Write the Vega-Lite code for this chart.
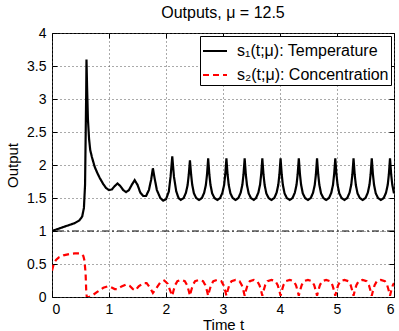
{
  "$schema": "https://vega.github.io/schema/vega-lite/v6.json",
  "width": 342,
  "height": 264,
  "autosize": {"type": "none"},
  "padding": {"left": 52, "top": 33, "right": 5, "bottom": 34},
  "background": "white",
  "config": {
    "view": {"stroke": "black", "strokeWidth": 1},
    "font": "Liberation Sans",
    "axis": {
      "labelFont": "Liberation Sans",
      "titleFont": "Liberation Sans",
      "labelFontSize": 14,
      "titleFontSize": 15,
      "titleFontWeight": "normal",
      "labelColor": "black",
      "titleColor": "black",
      "domain": false,
      "tickColor": "black",
      "tickSize": -5,
      "labelPadding": 11,
      "grid": false
    }
  },
  "title": {
    "text": "Outputs, μ = 12.5",
    "fontSize": 16,
    "fontWeight": "normal",
    "font": "Liberation Sans",
    "color": "black",
    "baseline": "alphabetic",
    "offset": -8
  },
  "datasets": {
    "sol": [
      {"t": 0, "v": 1.0, "s": "s₁(t;μ): Temperature"},
      {"t": 0.1, "v": 1.03, "s": "s₁(t;μ): Temperature"},
      {"t": 0.2, "v": 1.06, "s": "s₁(t;μ): Temperature"},
      {"t": 0.3, "v": 1.09, "s": "s₁(t;μ): Temperature"},
      {"t": 0.4, "v": 1.12, "s": "s₁(t;μ): Temperature"},
      {"t": 0.48, "v": 1.16, "s": "s₁(t;μ): Temperature"},
      {"t": 0.53, "v": 1.22, "s": "s₁(t;μ): Temperature"},
      {"t": 0.56, "v": 1.35, "s": "s₁(t;μ): Temperature"},
      {"t": 0.58, "v": 1.7, "s": "s₁(t;μ): Temperature"},
      {"t": 0.59, "v": 2.4, "s": "s₁(t;μ): Temperature"},
      {"t": 0.6, "v": 3.1, "s": "s₁(t;μ): Temperature"},
      {"t": 0.605, "v": 3.6, "s": "s₁(t;μ): Temperature"},
      {"t": 0.615, "v": 3.2, "s": "s₁(t;μ): Temperature"},
      {"t": 0.63, "v": 2.7, "s": "s₁(t;μ): Temperature"},
      {"t": 0.65, "v": 2.4, "s": "s₁(t;μ): Temperature"},
      {"t": 0.67, "v": 2.23, "s": "s₁(t;μ): Temperature"},
      {"t": 0.7, "v": 2.12, "s": "s₁(t;μ): Temperature"},
      {"t": 0.75, "v": 1.97, "s": "s₁(t;μ): Temperature"},
      {"t": 0.8, "v": 1.87, "s": "s₁(t;μ): Temperature"},
      {"t": 0.84, "v": 1.8, "s": "s₁(t;μ): Temperature"},
      {"t": 0.9, "v": 1.71, "s": "s₁(t;μ): Temperature"},
      {"t": 0.95, "v": 1.65, "s": "s₁(t;μ): Temperature"},
      {"t": 1.0, "v": 1.62, "s": "s₁(t;μ): Temperature"},
      {"t": 1.05, "v": 1.63, "s": "s₁(t;μ): Temperature"},
      {"t": 1.1, "v": 1.68, "s": "s₁(t;μ): Temperature"},
      {"t": 1.15, "v": 1.72, "s": "s₁(t;μ): Temperature"},
      {"t": 1.2, "v": 1.68, "s": "s₁(t;μ): Temperature"},
      {"t": 1.25, "v": 1.62, "s": "s₁(t;μ): Temperature"},
      {"t": 1.3, "v": 1.59, "s": "s₁(t;μ): Temperature"},
      {"t": 1.35, "v": 1.62, "s": "s₁(t;μ): Temperature"},
      {"t": 1.4, "v": 1.7, "s": "s₁(t;μ): Temperature"},
      {"t": 1.45, "v": 1.77, "s": "s₁(t;μ): Temperature"},
      {"t": 1.5, "v": 1.7, "s": "s₁(t;μ): Temperature"},
      {"t": 1.55, "v": 1.58, "s": "s₁(t;μ): Temperature"},
      {"t": 1.6, "v": 1.53, "s": "s₁(t;μ): Temperature"},
      {"t": 1.65, "v": 1.53, "s": "s₁(t;μ): Temperature"},
      {"t": 1.7, "v": 1.62, "s": "s₁(t;μ): Temperature"},
      {"t": 1.74, "v": 1.78, "s": "s₁(t;μ): Temperature"},
      {"t": 1.77, "v": 1.95, "s": "s₁(t;μ): Temperature"},
      {"t": 1.8, "v": 1.8, "s": "s₁(t;μ): Temperature"},
      {"t": 1.84, "v": 1.62, "s": "s₁(t;μ): Temperature"},
      {"t": 1.9, "v": 1.5, "s": "s₁(t;μ): Temperature"},
      {"t": 1.95, "v": 1.46, "s": "s₁(t;μ): Temperature"},
      {"t": 2.0, "v": 1.48, "s": "s₁(t;μ): Temperature"},
      {"t": 2.05, "v": 1.6, "s": "s₁(t;μ): Temperature"},
      {"t": 2.08, "v": 1.82, "s": "s₁(t;μ): Temperature"},
      {"t": 2.11, "v": 2.13, "s": "s₁(t;μ): Temperature"},
      {"t": 2.14, "v": 1.82, "s": "s₁(t;μ): Temperature"},
      {"t": 2.18, "v": 1.6, "s": "s₁(t;μ): Temperature"},
      {"t": 2.22, "v": 1.5, "s": "s₁(t;μ): Temperature"},
      {"t": 2.26, "v": 1.47, "s": "s₁(t;μ): Temperature"},
      {"t": 2.31, "v": 1.5, "s": "s₁(t;μ): Temperature"},
      {"t": 2.35, "v": 1.58, "s": "s₁(t;μ): Temperature"},
      {"t": 2.38, "v": 1.7, "s": "s₁(t;μ): Temperature"},
      {"t": 2.4, "v": 1.86, "s": "s₁(t;μ): Temperature"},
      {"t": 2.42, "v": 2.07, "s": "s₁(t;μ): Temperature"},
      {"t": 2.44, "v": 1.86, "s": "s₁(t;μ): Temperature"},
      {"t": 2.46, "v": 1.7, "s": "s₁(t;μ): Temperature"},
      {"t": 2.49, "v": 1.57, "s": "s₁(t;μ): Temperature"},
      {"t": 2.53, "v": 1.5, "s": "s₁(t;μ): Temperature"},
      {"t": 2.58, "v": 1.47, "s": "s₁(t;μ): Temperature"},
      {"t": 2.63, "v": 1.5, "s": "s₁(t;μ): Temperature"},
      {"t": 2.67, "v": 1.58, "s": "s₁(t;μ): Temperature"},
      {"t": 2.7, "v": 1.7, "s": "s₁(t;μ): Temperature"},
      {"t": 2.72, "v": 1.86, "s": "s₁(t;μ): Temperature"},
      {"t": 2.74, "v": 2.1, "s": "s₁(t;μ): Temperature"},
      {"t": 2.76, "v": 1.86, "s": "s₁(t;μ): Temperature"},
      {"t": 2.78, "v": 1.7, "s": "s₁(t;μ): Temperature"},
      {"t": 2.81, "v": 1.57, "s": "s₁(t;μ): Temperature"},
      {"t": 2.85, "v": 1.5, "s": "s₁(t;μ): Temperature"},
      {"t": 2.9, "v": 1.47, "s": "s₁(t;μ): Temperature"},
      {"t": 2.95, "v": 1.5, "s": "s₁(t;μ): Temperature"},
      {"t": 2.99, "v": 1.58, "s": "s₁(t;μ): Temperature"},
      {"t": 3.02, "v": 1.7, "s": "s₁(t;μ): Temperature"},
      {"t": 3.04, "v": 1.86, "s": "s₁(t;μ): Temperature"},
      {"t": 3.06, "v": 2.1, "s": "s₁(t;μ): Temperature"},
      {"t": 3.08, "v": 1.86, "s": "s₁(t;μ): Temperature"},
      {"t": 3.1, "v": 1.7, "s": "s₁(t;μ): Temperature"},
      {"t": 3.13, "v": 1.57, "s": "s₁(t;μ): Temperature"},
      {"t": 3.17, "v": 1.5, "s": "s₁(t;μ): Temperature"},
      {"t": 3.22, "v": 1.47, "s": "s₁(t;μ): Temperature"},
      {"t": 3.27, "v": 1.5, "s": "s₁(t;μ): Temperature"},
      {"t": 3.31, "v": 1.58, "s": "s₁(t;μ): Temperature"},
      {"t": 3.34, "v": 1.7, "s": "s₁(t;μ): Temperature"},
      {"t": 3.36, "v": 1.86, "s": "s₁(t;μ): Temperature"},
      {"t": 3.38, "v": 2.1, "s": "s₁(t;μ): Temperature"},
      {"t": 3.4, "v": 1.86, "s": "s₁(t;μ): Temperature"},
      {"t": 3.42, "v": 1.7, "s": "s₁(t;μ): Temperature"},
      {"t": 3.45, "v": 1.57, "s": "s₁(t;μ): Temperature"},
      {"t": 3.49, "v": 1.5, "s": "s₁(t;μ): Temperature"},
      {"t": 3.54, "v": 1.47, "s": "s₁(t;μ): Temperature"},
      {"t": 3.58, "v": 1.5, "s": "s₁(t;μ): Temperature"},
      {"t": 3.62, "v": 1.58, "s": "s₁(t;μ): Temperature"},
      {"t": 3.65, "v": 1.7, "s": "s₁(t;μ): Temperature"},
      {"t": 3.67, "v": 1.86, "s": "s₁(t;μ): Temperature"},
      {"t": 3.69, "v": 2.1, "s": "s₁(t;μ): Temperature"},
      {"t": 3.71, "v": 1.86, "s": "s₁(t;μ): Temperature"},
      {"t": 3.73, "v": 1.7, "s": "s₁(t;μ): Temperature"},
      {"t": 3.76, "v": 1.57, "s": "s₁(t;μ): Temperature"},
      {"t": 3.8, "v": 1.5, "s": "s₁(t;μ): Temperature"},
      {"t": 3.85, "v": 1.47, "s": "s₁(t;μ): Temperature"},
      {"t": 3.9, "v": 1.5, "s": "s₁(t;μ): Temperature"},
      {"t": 3.94, "v": 1.58, "s": "s₁(t;μ): Temperature"},
      {"t": 3.97, "v": 1.7, "s": "s₁(t;μ): Temperature"},
      {"t": 3.99, "v": 1.86, "s": "s₁(t;μ): Temperature"},
      {"t": 4.01, "v": 2.1, "s": "s₁(t;μ): Temperature"},
      {"t": 4.03, "v": 1.86, "s": "s₁(t;μ): Temperature"},
      {"t": 4.05, "v": 1.7, "s": "s₁(t;μ): Temperature"},
      {"t": 4.08, "v": 1.57, "s": "s₁(t;μ): Temperature"},
      {"t": 4.12, "v": 1.5, "s": "s₁(t;μ): Temperature"},
      {"t": 4.17, "v": 1.47, "s": "s₁(t;μ): Temperature"},
      {"t": 4.22, "v": 1.5, "s": "s₁(t;μ): Temperature"},
      {"t": 4.26, "v": 1.58, "s": "s₁(t;μ): Temperature"},
      {"t": 4.29, "v": 1.7, "s": "s₁(t;μ): Temperature"},
      {"t": 4.31, "v": 1.86, "s": "s₁(t;μ): Temperature"},
      {"t": 4.33, "v": 2.1, "s": "s₁(t;μ): Temperature"},
      {"t": 4.35, "v": 1.86, "s": "s₁(t;μ): Temperature"},
      {"t": 4.37, "v": 1.7, "s": "s₁(t;μ): Temperature"},
      {"t": 4.4, "v": 1.57, "s": "s₁(t;μ): Temperature"},
      {"t": 4.44, "v": 1.5, "s": "s₁(t;μ): Temperature"},
      {"t": 4.49, "v": 1.47, "s": "s₁(t;μ): Temperature"},
      {"t": 4.54, "v": 1.5, "s": "s₁(t;μ): Temperature"},
      {"t": 4.58, "v": 1.58, "s": "s₁(t;μ): Temperature"},
      {"t": 4.61, "v": 1.7, "s": "s₁(t;μ): Temperature"},
      {"t": 4.63, "v": 1.86, "s": "s₁(t;μ): Temperature"},
      {"t": 4.65, "v": 2.1, "s": "s₁(t;μ): Temperature"},
      {"t": 4.67, "v": 1.86, "s": "s₁(t;μ): Temperature"},
      {"t": 4.69, "v": 1.7, "s": "s₁(t;μ): Temperature"},
      {"t": 4.72, "v": 1.57, "s": "s₁(t;μ): Temperature"},
      {"t": 4.76, "v": 1.5, "s": "s₁(t;μ): Temperature"},
      {"t": 4.81, "v": 1.47, "s": "s₁(t;μ): Temperature"},
      {"t": 4.86, "v": 1.5, "s": "s₁(t;μ): Temperature"},
      {"t": 4.9, "v": 1.58, "s": "s₁(t;μ): Temperature"},
      {"t": 4.93, "v": 1.7, "s": "s₁(t;μ): Temperature"},
      {"t": 4.95, "v": 1.86, "s": "s₁(t;μ): Temperature"},
      {"t": 4.97, "v": 2.1, "s": "s₁(t;μ): Temperature"},
      {"t": 4.99, "v": 1.86, "s": "s₁(t;μ): Temperature"},
      {"t": 5.01, "v": 1.7, "s": "s₁(t;μ): Temperature"},
      {"t": 5.04, "v": 1.57, "s": "s₁(t;μ): Temperature"},
      {"t": 5.08, "v": 1.5, "s": "s₁(t;μ): Temperature"},
      {"t": 5.13, "v": 1.47, "s": "s₁(t;μ): Temperature"},
      {"t": 5.18, "v": 1.5, "s": "s₁(t;μ): Temperature"},
      {"t": 5.22, "v": 1.58, "s": "s₁(t;μ): Temperature"},
      {"t": 5.25, "v": 1.7, "s": "s₁(t;μ): Temperature"},
      {"t": 5.27, "v": 1.86, "s": "s₁(t;μ): Temperature"},
      {"t": 5.29, "v": 2.1, "s": "s₁(t;μ): Temperature"},
      {"t": 5.31, "v": 1.86, "s": "s₁(t;μ): Temperature"},
      {"t": 5.33, "v": 1.7, "s": "s₁(t;μ): Temperature"},
      {"t": 5.36, "v": 1.57, "s": "s₁(t;μ): Temperature"},
      {"t": 5.4, "v": 1.5, "s": "s₁(t;μ): Temperature"},
      {"t": 5.45, "v": 1.47, "s": "s₁(t;μ): Temperature"},
      {"t": 5.5, "v": 1.5, "s": "s₁(t;μ): Temperature"},
      {"t": 5.54, "v": 1.58, "s": "s₁(t;μ): Temperature"},
      {"t": 5.57, "v": 1.7, "s": "s₁(t;μ): Temperature"},
      {"t": 5.59, "v": 1.86, "s": "s₁(t;μ): Temperature"},
      {"t": 5.61, "v": 2.1, "s": "s₁(t;μ): Temperature"},
      {"t": 5.63, "v": 1.86, "s": "s₁(t;μ): Temperature"},
      {"t": 5.65, "v": 1.7, "s": "s₁(t;μ): Temperature"},
      {"t": 5.68, "v": 1.57, "s": "s₁(t;μ): Temperature"},
      {"t": 5.72, "v": 1.5, "s": "s₁(t;μ): Temperature"},
      {"t": 5.77, "v": 1.47, "s": "s₁(t;μ): Temperature"},
      {"t": 5.82, "v": 1.5, "s": "s₁(t;μ): Temperature"},
      {"t": 5.86, "v": 1.58, "s": "s₁(t;μ): Temperature"},
      {"t": 5.89, "v": 1.7, "s": "s₁(t;μ): Temperature"},
      {"t": 5.91, "v": 1.86, "s": "s₁(t;μ): Temperature"},
      {"t": 5.93, "v": 2.1, "s": "s₁(t;μ): Temperature"},
      {"t": 5.95, "v": 1.86, "s": "s₁(t;μ): Temperature"},
      {"t": 5.97, "v": 1.7, "s": "s₁(t;μ): Temperature"},
      {"t": 6.0, "v": 1.57, "s": "s₁(t;μ): Temperature"},

      {"t": 0, "v": 0.4, "s": "s₂(t;μ): Concentration"},
      {"t": 0.03, "v": 0.5, "s": "s₂(t;μ): Concentration"},
      {"t": 0.07, "v": 0.56, "s": "s₂(t;μ): Concentration"},
      {"t": 0.12, "v": 0.6, "s": "s₂(t;μ): Concentration"},
      {"t": 0.2, "v": 0.63, "s": "s₂(t;μ): Concentration"},
      {"t": 0.3, "v": 0.65, "s": "s₂(t;μ): Concentration"},
      {"t": 0.4, "v": 0.66, "s": "s₂(t;μ): Concentration"},
      {"t": 0.48, "v": 0.66, "s": "s₂(t;μ): Concentration"},
      {"t": 0.52, "v": 0.65, "s": "s₂(t;μ): Concentration"},
      {"t": 0.55, "v": 0.62, "s": "s₂(t;μ): Concentration"},
      {"t": 0.57, "v": 0.55, "s": "s₂(t;μ): Concentration"},
      {"t": 0.59, "v": 0.35, "s": "s₂(t;μ): Concentration"},
      {"t": 0.6, "v": 0.1, "s": "s₂(t;μ): Concentration"},
      {"t": 0.61, "v": 0.0, "s": "s₂(t;μ): Concentration"},
      {"t": 0.65, "v": 0.0, "s": "s₂(t;μ): Concentration"},
      {"t": 0.7, "v": 0.02, "s": "s₂(t;μ): Concentration"},
      {"t": 0.8, "v": 0.08, "s": "s₂(t;μ): Concentration"},
      {"t": 0.9, "v": 0.14, "s": "s₂(t;μ): Concentration"},
      {"t": 0.97, "v": 0.16, "s": "s₂(t;μ): Concentration"},
      {"t": 1.03, "v": 0.15, "s": "s₂(t;μ): Concentration"},
      {"t": 1.1, "v": 0.12, "s": "s₂(t;μ): Concentration"},
      {"t": 1.15, "v": 0.12, "s": "s₂(t;μ): Concentration"},
      {"t": 1.22, "v": 0.16, "s": "s₂(t;μ): Concentration"},
      {"t": 1.3, "v": 0.19, "s": "s₂(t;μ): Concentration"},
      {"t": 1.36, "v": 0.17, "s": "s₂(t;μ): Concentration"},
      {"t": 1.42, "v": 0.12, "s": "s₂(t;μ): Concentration"},
      {"t": 1.46, "v": 0.1, "s": "s₂(t;μ): Concentration"},
      {"t": 1.52, "v": 0.16, "s": "s₂(t;μ): Concentration"},
      {"t": 1.6, "v": 0.21, "s": "s₂(t;μ): Concentration"},
      {"t": 1.66, "v": 0.21, "s": "s₂(t;μ): Concentration"},
      {"t": 1.72, "v": 0.14, "s": "s₂(t;μ): Concentration"},
      {"t": 1.77, "v": 0.06, "s": "s₂(t;μ): Concentration"},
      {"t": 1.82, "v": 0.12, "s": "s₂(t;μ): Concentration"},
      {"t": 1.9, "v": 0.22, "s": "s₂(t;μ): Concentration"},
      {"t": 1.97, "v": 0.25, "s": "s₂(t;μ): Concentration"},
      {"t": 2.03, "v": 0.2, "s": "s₂(t;μ): Concentration"},
      {"t": 2.08, "v": 0.08, "s": "s₂(t;μ): Concentration"},
      {"t": 2.11, "v": 0.02, "s": "s₂(t;μ): Concentration"},
      {"t": 2.13, "v": 0.09, "s": "s₂(t;μ): Concentration"},
      {"t": 2.16, "v": 0.18, "s": "s₂(t;μ): Concentration"},
      {"t": 2.2, "v": 0.24, "s": "s₂(t;μ): Concentration"},
      {"t": 2.27, "v": 0.26, "s": "s₂(t;μ): Concentration"},
      {"t": 2.33, "v": 0.24, "s": "s₂(t;μ): Concentration"},
      {"t": 2.37, "v": 0.18, "s": "s₂(t;μ): Concentration"},
      {"t": 2.4, "v": 0.09, "s": "s₂(t;μ): Concentration"},
      {"t": 2.42, "v": 0.02, "s": "s₂(t;μ): Concentration"},
      {"t": 2.44, "v": 0.09, "s": "s₂(t;μ): Concentration"},
      {"t": 2.47, "v": 0.18, "s": "s₂(t;μ): Concentration"},
      {"t": 2.51, "v": 0.24, "s": "s₂(t;μ): Concentration"},
      {"t": 2.58, "v": 0.26, "s": "s₂(t;μ): Concentration"},
      {"t": 2.65, "v": 0.24, "s": "s₂(t;μ): Concentration"},
      {"t": 2.69, "v": 0.18, "s": "s₂(t;μ): Concentration"},
      {"t": 2.72, "v": 0.09, "s": "s₂(t;μ): Concentration"},
      {"t": 2.74, "v": 0.02, "s": "s₂(t;μ): Concentration"},
      {"t": 2.76, "v": 0.09, "s": "s₂(t;μ): Concentration"},
      {"t": 2.79, "v": 0.18, "s": "s₂(t;μ): Concentration"},
      {"t": 2.83, "v": 0.24, "s": "s₂(t;μ): Concentration"},
      {"t": 2.9, "v": 0.26, "s": "s₂(t;μ): Concentration"},
      {"t": 2.97, "v": 0.24, "s": "s₂(t;μ): Concentration"},
      {"t": 3.01, "v": 0.18, "s": "s₂(t;μ): Concentration"},
      {"t": 3.04, "v": 0.09, "s": "s₂(t;μ): Concentration"},
      {"t": 3.06, "v": 0.02, "s": "s₂(t;μ): Concentration"},
      {"t": 3.08, "v": 0.09, "s": "s₂(t;μ): Concentration"},
      {"t": 3.11, "v": 0.18, "s": "s₂(t;μ): Concentration"},
      {"t": 3.15, "v": 0.24, "s": "s₂(t;μ): Concentration"},
      {"t": 3.22, "v": 0.26, "s": "s₂(t;μ): Concentration"},
      {"t": 3.29, "v": 0.24, "s": "s₂(t;μ): Concentration"},
      {"t": 3.33, "v": 0.18, "s": "s₂(t;μ): Concentration"},
      {"t": 3.36, "v": 0.09, "s": "s₂(t;μ): Concentration"},
      {"t": 3.38, "v": 0.02, "s": "s₂(t;μ): Concentration"},
      {"t": 3.4, "v": 0.09, "s": "s₂(t;μ): Concentration"},
      {"t": 3.43, "v": 0.18, "s": "s₂(t;μ): Concentration"},
      {"t": 3.47, "v": 0.24, "s": "s₂(t;μ): Concentration"},
      {"t": 3.54, "v": 0.26, "s": "s₂(t;μ): Concentration"},
      {"t": 3.6, "v": 0.24, "s": "s₂(t;μ): Concentration"},
      {"t": 3.64, "v": 0.18, "s": "s₂(t;μ): Concentration"},
      {"t": 3.67, "v": 0.09, "s": "s₂(t;μ): Concentration"},
      {"t": 3.69, "v": 0.02, "s": "s₂(t;μ): Concentration"},
      {"t": 3.71, "v": 0.09, "s": "s₂(t;μ): Concentration"},
      {"t": 3.74, "v": 0.18, "s": "s₂(t;μ): Concentration"},
      {"t": 3.78, "v": 0.24, "s": "s₂(t;μ): Concentration"},
      {"t": 3.85, "v": 0.26, "s": "s₂(t;μ): Concentration"},
      {"t": 3.92, "v": 0.24, "s": "s₂(t;μ): Concentration"},
      {"t": 3.96, "v": 0.18, "s": "s₂(t;μ): Concentration"},
      {"t": 3.99, "v": 0.09, "s": "s₂(t;μ): Concentration"},
      {"t": 4.01, "v": 0.02, "s": "s₂(t;μ): Concentration"},
      {"t": 4.03, "v": 0.09, "s": "s₂(t;μ): Concentration"},
      {"t": 4.06, "v": 0.18, "s": "s₂(t;μ): Concentration"},
      {"t": 4.1, "v": 0.24, "s": "s₂(t;μ): Concentration"},
      {"t": 4.17, "v": 0.26, "s": "s₂(t;μ): Concentration"},
      {"t": 4.24, "v": 0.24, "s": "s₂(t;μ): Concentration"},
      {"t": 4.28, "v": 0.18, "s": "s₂(t;μ): Concentration"},
      {"t": 4.31, "v": 0.09, "s": "s₂(t;μ): Concentration"},
      {"t": 4.33, "v": 0.02, "s": "s₂(t;μ): Concentration"},
      {"t": 4.35, "v": 0.09, "s": "s₂(t;μ): Concentration"},
      {"t": 4.38, "v": 0.18, "s": "s₂(t;μ): Concentration"},
      {"t": 4.42, "v": 0.24, "s": "s₂(t;μ): Concentration"},
      {"t": 4.49, "v": 0.26, "s": "s₂(t;μ): Concentration"},
      {"t": 4.56, "v": 0.24, "s": "s₂(t;μ): Concentration"},
      {"t": 4.6, "v": 0.18, "s": "s₂(t;μ): Concentration"},
      {"t": 4.63, "v": 0.09, "s": "s₂(t;μ): Concentration"},
      {"t": 4.65, "v": 0.02, "s": "s₂(t;μ): Concentration"},
      {"t": 4.67, "v": 0.09, "s": "s₂(t;μ): Concentration"},
      {"t": 4.7, "v": 0.18, "s": "s₂(t;μ): Concentration"},
      {"t": 4.74, "v": 0.24, "s": "s₂(t;μ): Concentration"},
      {"t": 4.81, "v": 0.26, "s": "s₂(t;μ): Concentration"},
      {"t": 4.88, "v": 0.24, "s": "s₂(t;μ): Concentration"},
      {"t": 4.92, "v": 0.18, "s": "s₂(t;μ): Concentration"},
      {"t": 4.95, "v": 0.09, "s": "s₂(t;μ): Concentration"},
      {"t": 4.97, "v": 0.02, "s": "s₂(t;μ): Concentration"},
      {"t": 4.99, "v": 0.09, "s": "s₂(t;μ): Concentration"},
      {"t": 5.02, "v": 0.18, "s": "s₂(t;μ): Concentration"},
      {"t": 5.06, "v": 0.24, "s": "s₂(t;μ): Concentration"},
      {"t": 5.13, "v": 0.26, "s": "s₂(t;μ): Concentration"},
      {"t": 5.2, "v": 0.24, "s": "s₂(t;μ): Concentration"},
      {"t": 5.24, "v": 0.18, "s": "s₂(t;μ): Concentration"},
      {"t": 5.27, "v": 0.09, "s": "s₂(t;μ): Concentration"},
      {"t": 5.29, "v": 0.02, "s": "s₂(t;μ): Concentration"},
      {"t": 5.31, "v": 0.09, "s": "s₂(t;μ): Concentration"},
      {"t": 5.34, "v": 0.18, "s": "s₂(t;μ): Concentration"},
      {"t": 5.38, "v": 0.24, "s": "s₂(t;μ): Concentration"},
      {"t": 5.45, "v": 0.26, "s": "s₂(t;μ): Concentration"},
      {"t": 5.52, "v": 0.24, "s": "s₂(t;μ): Concentration"},
      {"t": 5.56, "v": 0.18, "s": "s₂(t;μ): Concentration"},
      {"t": 5.59, "v": 0.09, "s": "s₂(t;μ): Concentration"},
      {"t": 5.61, "v": 0.02, "s": "s₂(t;μ): Concentration"},
      {"t": 5.63, "v": 0.09, "s": "s₂(t;μ): Concentration"},
      {"t": 5.66, "v": 0.18, "s": "s₂(t;μ): Concentration"},
      {"t": 5.7, "v": 0.24, "s": "s₂(t;μ): Concentration"},
      {"t": 5.77, "v": 0.26, "s": "s₂(t;μ): Concentration"},
      {"t": 5.84, "v": 0.24, "s": "s₂(t;μ): Concentration"},
      {"t": 5.88, "v": 0.18, "s": "s₂(t;μ): Concentration"},
      {"t": 5.91, "v": 0.09, "s": "s₂(t;μ): Concentration"},
      {"t": 5.93, "v": 0.02, "s": "s₂(t;μ): Concentration"},
      {"t": 5.95, "v": 0.09, "s": "s₂(t;μ): Concentration"},
      {"t": 5.98, "v": 0.18, "s": "s₂(t;μ): Concentration"},
      {"t": 6.0, "v": 0.21, "s": "s₂(t;μ): Concentration"}
    ]
  },
  "layer": [
    {
      "data": {"name": "sol"},
      "mark": {"type": "point", "opacity": 0},
      "encoding": {
        "x": {"field": "t", "type": "quantitative", "scale": {"domain": [0, 6], "nice": false},
              "axis": {"orient": "top", "values": [0, 1, 2, 3, 4, 5, 6], "labels": false, "title": null, "grid": false, "minExtent": 0, "maxExtent": 0}},
        "y": {"field": "v", "type": "quantitative", "scale": {"domain": [0, 4], "nice": false},
              "axis": {"orient": "right", "values": [0, 0.5, 1, 1.5, 2, 2.5, 3, 3.5, 4], "labels": false, "title": null, "grid": false, "minExtent": 0, "maxExtent": 0}}
      }
    },
    {
      "data": {"values": [{}]},
      "mark": {"type": "rule", "color": "black", "strokeWidth": 1, "strokeDash": [7, 3, 2, 3]},
      "encoding": {"y": {"datum": 1, "type": "quantitative", "axis": null}}
    },
    {
      "data": {"name": "sol"},
      "mark": {"type": "line", "strokeWidth": 2.2, "clip": true},
      "encoding": {
        "x": {"field": "t", "type": "quantitative",
              "axis": {"orient": "bottom", "values": [0, 1, 2, 3, 4, 5, 6], "title": "Time t", "titlePadding": 1, "labelPadding": 10,
                       "grid": true, "gridColor": "#555", "gridDash": [1, 3], "gridWidth": 1}},
        "y": {"field": "v", "type": "quantitative",
              "axis": {"orient": "left", "values": [0, 0.5, 1, 1.5, 2, 2.5, 3, 3.5, 4], "format": ".1~f", "title": "Output", "titlePadding": 6,
                       "grid": true, "gridColor": "#555", "gridDash": [1, 3], "gridWidth": 1}},
        "color": {"field": "s", "type": "nominal",
                  "scale": {"domain": ["s₁(t;μ): Temperature", "s₂(t;μ): Concentration"], "range": ["#000000", "#ff0000"]},
                  "legend": {"title": null, "orient": "top-right", "offset": 3, "padding": 2, "strokeColor": "black", "fillColor": "white",
                             "symbolType": "stroke", "symbolSize": 576, "symbolStrokeWidth": 2, "labelFontSize": 16, "labelFont": "Liberation Sans",
                             "labelColor": "black", "rowPadding": 3, "labelOffset": 9, "labelLimit": 300}},
        "strokeDash": {"field": "s", "type": "nominal",
                       "scale": {"domain": ["s₁(t;μ): Temperature", "s₂(t;μ): Concentration"], "range": [[1, 0], [6, 4]]},
                       "legend": {"title": null}},
        "order": {"field": "t", "type": "quantitative"}
      }
    }
  ],
  "resolve": {"axis": {"x": "independent", "y": "independent"}}
}
